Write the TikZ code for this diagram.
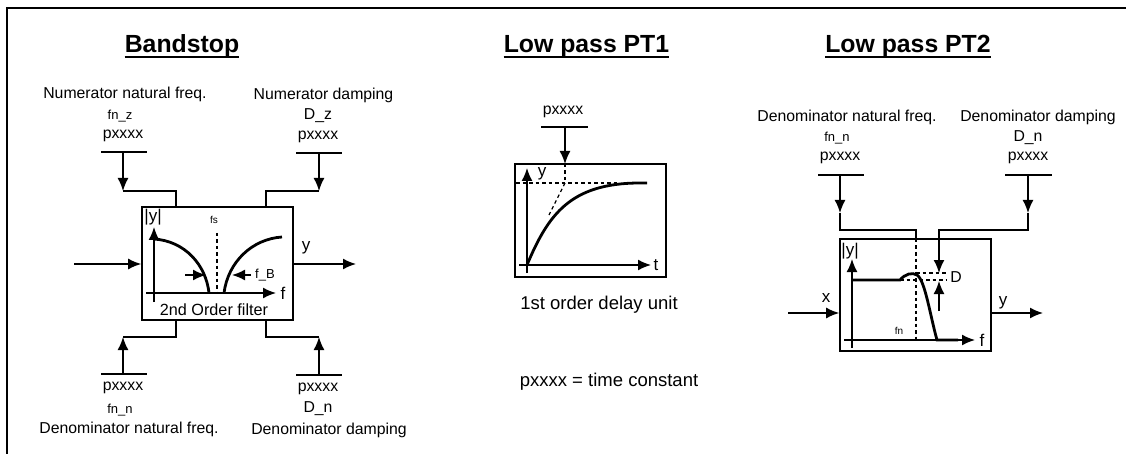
\documentclass[tikz,border=0pt]{standalone}
\usepackage{fontspec}
\setmainfont{Liberation Sans}
\usetikzlibrary{arrows.meta}
\tikzset{
	labelmain/.style={inner sep=0pt, font=\fontsize{15.8}{18}\selectfont},
	labelnote/.style={inner sep=0pt, font=\fontsize{18.5}{21}\selectfont},
	labelsmall/.style={inner sep=0pt, font=\fontsize{13}{15}\selectfont},
	labelplot/.style={inner sep=0pt, font=\fontsize{17}{20}\selectfont},
	tinytext/.style={inner sep=0pt, font=\fontsize{10}{12}\selectfont},
	heading/.style={inner sep=0pt, anchor=base, font=\fontsize{24.8}{28}\selectfont\bfseries},
	headrule/.style={line width=2.6pt},
	filterbox/.style={draw, line width=1.6pt, inner sep=0pt},
	wire/.style={line width=1.6pt},
	flow/.style={line width=1.6pt, -{Latex[length=13pt,width=11pt]}},
	curve/.style={line width=2.8pt},
	guide/.style={line width=1.3pt, dash pattern=on 3.5pt off 3pt}
}
\begin{document}
\begin{tikzpicture}[x=1pt,y=-1pt]
	\useasboundingbox (0,0) rectangle (1126,454);
	\draw[line width=1.6pt] (1126,8) -- (7,8) -- (7,454);

	% headings
	\node[heading] (titleBS) at (182,53) {Bandstop};
	\node[heading] (titleLA) at (586.5,53) {Low pass PT1};
	\node[heading] (titleLB) at (908,53) {Low pass PT2};
	\draw[headrule] ([yshift=-4pt]titleBS.base west) -- ([yshift=-4pt]titleBS.base east);
	\draw[headrule] ([yshift=-4pt]titleLA.base west) -- ([yshift=-4pt]titleLA.base east);
	\draw[headrule] ([yshift=-4pt]titleLB.base west) -- ([yshift=-4pt]titleLB.base east);

	% bandstop
	\node[filterbox, minimum width=151pt, minimum height=113pt] (bsbox) at (217.5,263.5) {};
	\node[labelmain] (bsNa) at (125,94) {Numerator natural freq.};
	\node[labelsmall] (bsNb) at (120,116) {fn\_z};
	\node[labelmain] (bsNc) at (123,136) {pxxxx};
	\node[labelmain] (bsDa) at (323.5,95) {Numerator damping};
	\node[labelmain] (bsDb) at (318,116) {D\_z};
	\node[labelmain] (bsDc) at (318,137) {pxxxx};
	\node[labelmain] (bsEc) at (123,388) {pxxxx};
	\node[labelsmall] (bsEb) at (120,410) {fn\_n};
	\node[labelmain] (bsEa) at (129,429) {Denominator natural freq.};
	\node[labelmain] (bsFc) at (318,389) {pxxxx};
	\node[labelmain] (bsFb) at (318,409) {D\_n};
	\node[labelmain] (bsFa) at (329,430) {Denominator damping};
	\draw[wire] (101,152) -- (147,152);
	\draw[wire] (296,153) -- (342,153);
	\draw[wire] (101,374) -- (147,374);
	\draw[wire] (296,375) -- (342,375);
	\coordinate (bsTa) at (176,207);
	\coordinate (bsTb) at (266,207);
	\coordinate (bsBa) at (176,320);
	\coordinate (bsBb) at (266,320);
	\draw[flow] (123,152) -- (123,191);
	\draw[wire] (123,191) -- (176,191) -- (bsTa);
	\draw[flow] (319,153) -- (319,191);
	\draw[wire] (319,191) -- (266,191) -- (bsTb);
	\draw[flow] (123,374) -- (123,337);
	\draw[wire] (123,337) -- (176,337) -- (bsBa);
	\draw[flow] (319,375) -- (319,337);
	\draw[wire] (319,337) -- (266,337) -- (bsBb);
	\coordinate (bsIn) at (74,264);
	\coordinate (bsOut) at (356,264);
	\draw[flow] (bsIn) -- (bsbox.west |- bsIn);
	\draw[flow] (bsbox.east |- bsOut) -- (bsOut);
	\node[labelplot] (bsY) at (306,248) {y};
	\draw[flow] (154,302) -- (154,227);
	\draw[flow] (146,293) -- (276,293);
	\draw[curve] (154,239) .. controls (185,241) and (206,265) .. (209,293);
	\draw[curve] (224,293) .. controls (228,262) and (252,239) .. (282,237);
	\draw[guide] (217,233) -- (217,293);
	\node[tinytext] (bsFs) at (214,220) {fs};
	\node[labelplot] (bsAbs) at (153,217) {|y|};
	\node[labelplot] (bsF) at (283,293) {f};
	\node[labelmain, font=\fontsize{16.2}{18}\selectfont] (bsName) at (214,310) {2nd Order filter};
	\draw[flow] (185,275) -- (206,275);
	\draw[flow] (251,275) -- (232,275);
	\node[labelsmall] (bsFB) at (265,275) {f\_B};

	% low pass PT1
	\node[filterbox, minimum width=151pt, minimum height=113pt] (labox) at (590.5,220.5) {};
	\node[labelmain] (laP) at (563,112) {pxxxx};
	\draw[wire] (541,127) -- (588,127);
	\draw[flow] (565,127) -- (565,164);
	\draw[guide] (565,164) -- (565,183);
	\draw[guide] (516,183) -- (620,183);
	\draw[guide] (565,183) -- (549,215);
	\draw[flow] (527,273) -- (527,168);
	\draw[flow] (519,265) -- (651,265);
	\draw[curve] (527,265) .. controls (548,215) and (570,183) .. (640,183) -- (647,183);
	\node[labelplot] (laY) at (542,174) {y};
	\node[labelplot] (laT) at (656,265) {t};
	\node[labelnote] (laName) at (599,305) {1st order delay unit};
	\node[labelnote] (laNote) at (609,382) {pxxxx = time constant};

	% low pass PT2
	\node[filterbox, minimum width=151pt, minimum height=112pt] (lbbox) at (915.5,295) {};
	\node[labelmain] (lbFa) at (847,117) {Denominator natural freq.};
	\node[labelsmall] (lbFb) at (837,138) {fn\_n};
	\node[labelmain] (lbFc) at (840,158) {pxxxx};
	\node[labelmain] (lbDa) at (1038,117) {Denominator damping};
	\node[labelmain] (lbDb) at (1028,138) {D\_n};
	\node[labelmain] (lbDc) at (1028,158) {pxxxx};
	\draw[wire] (818,175) -- (864,175);
	\draw[wire] (1005,175) -- (1052,175);
	\draw[flow] (840,175) -- (840,213);
	\draw[wire] (840,213) -- (840,230) -- (916,230) -- (916,239);
	\draw[flow] (1028,175) -- (1028,213);
	\draw[wire] (1028,213) -- (1028,230) -- (939,230) -- (939,260);
	\draw[flow] (939,255) -- (939,273);
	\draw[guide] (916,239) -- (916,340);
	\draw[guide] (916,273) -- (947,273);
	\draw[guide] (900,280) -- (947,280);
	\draw[flow] (939,311) -- (939,281);
	\node[labelmain] (lbD) at (956,277) {D};
	\coordinate (lbIn) at (788,313);
	\coordinate (lbOut) at (1043,313);
	\draw[flow] (lbIn) -- (lbbox.west |- lbIn);
	\draw[flow] (lbbox.east |- lbOut) -- (lbOut);
	\node[labelplot] (lbX) at (826,298) {x};
	\node[labelplot] (lbY) at (1003,303) {y};
	\draw[flow] (852,348) -- (852,259);
	\draw[flow] (844,340) -- (975,340);
	\draw[curve] (852,280) -- (900,280) .. controls (905,274) and (912,272) .. (917,275) .. controls (925,280) and (930,315) .. (937,340) -- (958,340);
	\node[tinytext] (lbFn) at (899,331) {fn};
	\node[labelplot] (lbAbs) at (850,251) {|y|};
	\node[labelplot] (lbF) at (982,340) {f};
\end{tikzpicture}
\end{document}
